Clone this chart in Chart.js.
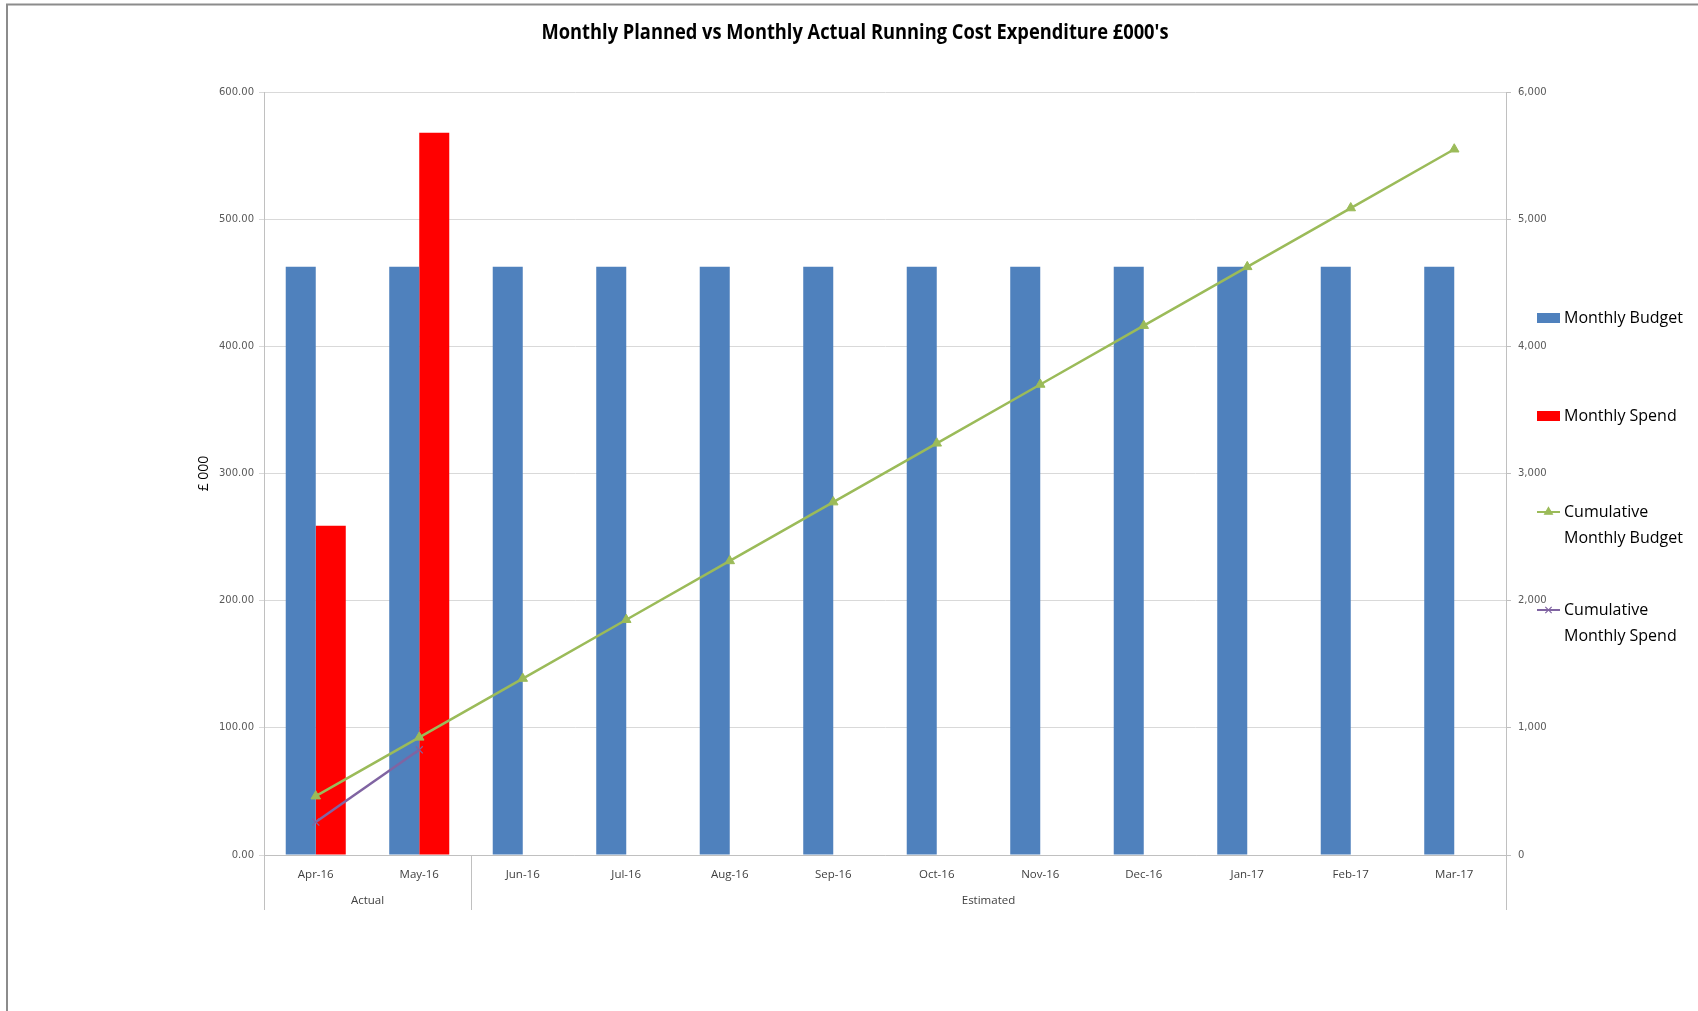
<!DOCTYPE html>
<html>
<head>
<meta charset="utf-8">
<title>Monthly Planned vs Monthly Actual Running Cost Expenditure</title>
<script src="https://cdn.jsdelivr.net/npm/chart.js@4/dist/chart.umd.min.js"></script>
<style>
  html, body { margin: 0; padding: 0; background: #ffffff; overflow: hidden; }
  #wrap { position: relative; width: 1698px; height: 1011px; }
</style>
</head>
<body>
<div id="wrap"><canvas id="costChart" width="1698" height="1011"></canvas></div>
<script>
// Months of the financial year
const months = ['Apr-16', 'May-16', 'Jun-16', 'Jul-16', 'Aug-16', 'Sep-16',
                'Oct-16', 'Nov-16', 'Dec-16', 'Jan-17', 'Feb-17', 'Mar-17'];

// Period groups shown beneath the month labels, with how many months each covers
const periodGroups = ['Actual', 'Estimated'];
const periodSizes = [2, 10];

// Monthly figures, £000
const monthlyBudget = [462.5, 462.5, 462.5, 462.5, 462.5, 462.5,
                       462.5, 462.5, 462.5, 462.5, 462.5, 462.5];
const monthlySpend = [259, 568, null, null, null, null,
                      null, null, null, null, null, null];

// Running totals, £000 (right-hand axis)
const cumulativeBudget = [462.5, 925, 1387.5, 1850, 2312.5, 2775,
                          3237.5, 3700, 4162.5, 4625, 5087.5, 5550];
const cumulativeSpend = [259, 827, null, null, null, null,
                         null, null, null, null, null, null];

// Series names
const seriesNames = ['Monthly Budget', 'Monthly Spend',
                     'Cumulative Monthly Budget', 'Cumulative Monthly Spend'];
const legendLines = [['Monthly Budget'], ['Monthly Spend'],
                     ['Cumulative', 'Monthly Budget'], ['Cumulative', 'Monthly Spend']];

const chartTitle = "Monthly Planned vs Monthly Actual Running Cost Expenditure £000's";
const leftAxisTitle = '£ 000';

const NARROW = '"Liberation Sans Narrow", "Open Sans", sans-serif';
const TICKFONT = '"DejaVu Sans", Verdana, sans-serif';
const LEGENDFONT = '"Open Sans", "Noto Sans", sans-serif';

const COLORS = {
  budget: '#4F81BD',
  spend: '#FF0000',
  cumBudget: '#9BBB59',
  cumSpend: '#8064A2',
  grid: '#d9d9d9',
  axis: '#c0c0c0',
  tick: '#595959'
};

// Page frame and heading
const framePlugin = {
  id: 'frame',
  beforeDraw(chart) {
    const ctx = chart.ctx;
    ctx.save();
    ctx.fillStyle = '#ffffff';
    ctx.fillRect(0, 0, chart.width, chart.height);
    ctx.strokeStyle = '#8c8c8c';
    ctx.lineWidth = 2;
    ctx.beginPath();
    ctx.moveTo(7, chart.height);
    ctx.lineTo(7, 4.5);
    ctx.lineTo(chart.width, 4.5);
    ctx.stroke();
    ctx.restore();
  },
  afterDraw(chart) {
    // Heading set in a condensed bold face, fitted to its measured width
    const ctx = chart.ctx;
    ctx.save();
    ctx.fillStyle = '#000000';
    ctx.font = 'bold 22px ' + NARROW;
    ctx.textAlign = 'center';
    ctx.textBaseline = 'middle';
    const w = ctx.measureText(chartTitle).width;
    const sx = Math.min(1, 627 / w);
    ctx.translate(855, 33);
    ctx.scale(sx, 1);
    ctx.fillText(chartTitle, 0, 0);
    ctx.restore();
  }
};

// Second level of the category axis: period groups with separators
const periodAxisPlugin = {
  id: 'periodAxis',
  afterDraw(chart) {
    const xs = chart.scales.x;
    const area = chart.chartArea;
    const n = months.length;
    const edge = (k) => {
      if (k <= 0) return xs.left;
      if (k >= n) return xs.right;
      return (xs.getPixelForValue(k - 1) + xs.getPixelForValue(k)) / 2;
    };
    const ctx = chart.ctx;
    ctx.save();
    ctx.strokeStyle = COLORS.axis;
    ctx.lineWidth = 1;
    ctx.fillStyle = '#404040';
    ctx.font = '11.5px ' + NARROW;
    ctx.textAlign = 'center';
    ctx.textBaseline = 'middle';
    let start = 0;
    const edges = [0];
    periodSizes.forEach((size, i) => {
      const a = edge(start), b = edge(start + size);
      ctx.fillText(periodGroups[i], (a + b) / 2, 901);
      start += size;
      edges.push(start);
    });
    edges.forEach((k) => {
      const x = Math.round(edge(k)) + 0.5;
      ctx.beginPath();
      ctx.moveTo(x, area.bottom);
      ctx.lineTo(x, 910);
      ctx.stroke();
    });
    ctx.restore();
  }
};

// Legend to the right of the value axis, with wrapped labels
const sideLegendPlugin = {
  id: 'sideLegend',
  afterDraw(chart) {
    const ctx = chart.ctx;
    const area = chart.chartArea;
    const rowsY = [318, 416, 512, 610];
    const swL = area.right + 31, swR = area.right + 54, textX = area.right + 58;
    ctx.save();
    chart.data.datasets.forEach((ds, i) => {
      const y = rowsY[i];
      if (ds.type === 'bar') {
        ctx.fillStyle = ds.backgroundColor;
        ctx.fillRect(swL, y - 5, swR - swL, 10);
      } else {
        ctx.strokeStyle = ds.borderColor;
        ctx.lineWidth = 2;
        ctx.beginPath();
        ctx.moveTo(swL, y);
        ctx.lineTo(swR, y);
        ctx.stroke();
        ctx.fillStyle = ds.pointBackgroundColor;
        ctx.strokeStyle = ds.pointBorderColor;
        ctx.lineWidth = 1.2;
        Chart.helpers.drawPoint(ctx, {
          pointStyle: ds.pointStyle, radius: 4.5, borderWidth: 1.2, rotation: 0
        }, (swL + swR) / 2, y);
      }
      ctx.fillStyle = '#000000';
      ctx.font = '16px ' + LEGENDFONT;
      ctx.textAlign = 'left';
      ctx.textBaseline = 'middle';
      legendLines[i].forEach((line, j) => {
        ctx.fillText(line, textX, y + j * 26);
      });
    });
    ctx.restore();
  }
};

const ctx = document.getElementById('costChart').getContext('2d');
new Chart(ctx, {
  data: {
    labels: months,
    datasets: [
      {
        type: 'bar', label: seriesNames[0], data: monthlyBudget, yAxisID: 'y',
        backgroundColor: COLORS.budget, borderWidth: 0, order: 2,
        categoryPercentage: 0.58, barPercentage: 1.0
      },
      {
        type: 'bar', label: seriesNames[1], data: monthlySpend, yAxisID: 'y',
        backgroundColor: COLORS.spend, borderWidth: 0, order: 2,
        categoryPercentage: 0.58, barPercentage: 1.0
      },
      {
        type: 'line', label: seriesNames[2], data: cumulativeBudget, yAxisID: 'y1',
        borderColor: COLORS.cumBudget, backgroundColor: COLORS.cumBudget,
        borderWidth: 2.5, tension: 0, fill: false, order: 0,
        pointStyle: 'triangle', pointRadius: 5.5,
        pointBackgroundColor: COLORS.cumBudget, pointBorderColor: COLORS.cumBudget,
        pointBorderWidth: 1
      },
      {
        type: 'line', label: seriesNames[3], data: cumulativeSpend, yAxisID: 'y1',
        borderColor: COLORS.cumSpend, backgroundColor: COLORS.cumSpend,
        borderWidth: 2.5, tension: 0, fill: false, order: 1,
        pointStyle: 'crossRot', pointRadius: 5,
        pointBackgroundColor: COLORS.cumSpend, pointBorderColor: COLORS.cumSpend,
        pointBorderWidth: 1.2
      }
    ]
  },
  options: {
    responsive: false,
    animation: false,
    devicePixelRatio: 1,
    layout: { padding: { left: 192, right: 132, top: 92, bottom: 96 } },
    plugins: {
      legend: { display: false },
      title: { display: false },
      tooltip: { enabled: false }
    },
    scales: {
      x: {
        type: 'category',
        grid: { display: false, drawTicks: false },
        border: { display: true, color: COLORS.axis, width: 1 },
        ticks: {
          color: '#404040', font: { family: NARROW, size: 11.5 },
          padding: 13, maxRotation: 0, autoSkip: false
        },
        afterFit(scale) { scale.height = 60; }
      },
      y: {
        position: 'left', min: 0, max: 600,
        grid: { color: COLORS.grid, lineWidth: 1, tickLength: 5 },
        border: { display: true, color: COLORS.axis, width: 1 },
        ticks: {
          stepSize: 100, color: COLORS.tick, padding: 5,
          font: { family: TICKFONT, size: 10 },
          callback: (v) => Number(v).toFixed(2)
        },
        title: {
          display: true, text: leftAxisTitle, color: '#000000',
          font: { family: LEGENDFONT, size: 14 }
        },
        afterFit(scale) { scale.width = 72; }
      },
      y1: {
        position: 'right', min: 0, max: 6000,
        grid: { drawOnChartArea: false, color: COLORS.axis, tickLength: 5 },
        border: { display: true, color: COLORS.axis, width: 1 },
        ticks: {
          stepSize: 1000, color: COLORS.tick, padding: 7,
          font: { family: TICKFONT, size: 10 },
          callback: (v) => Number(v).toLocaleString('en-GB')
        },
        afterFit(scale) { scale.width = 60; }
      }
    }
  },
  plugins: [framePlugin, periodAxisPlugin, sideLegendPlugin]
});
</script>
</body>
</html>
